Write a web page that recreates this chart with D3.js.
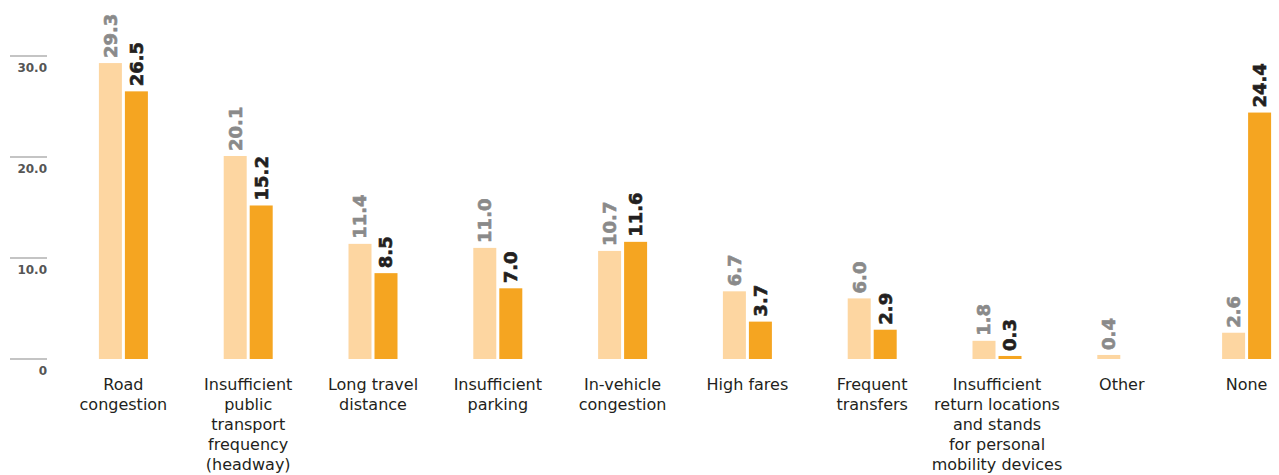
<!DOCTYPE html>
<html>
<head>
<meta charset="utf-8">
<style>
body { margin: 0; background: #fff; font-family: "DejaVu Sans", sans-serif; }
.tick-label { font-size: 12px; font-weight: 700; fill: #555; }
.val { font-size: 18px; font-weight: 700; stroke-width: 0.6px; }
.cat { font-size: 16px; fill: #231f20; }
</style>
</head>
<body>
<div id="vis"></div>
<script src="https://cdnjs.cloudflare.com/ajax/libs/d3/7.8.5/d3.min.js"></script>
<script>
var categories = [
  ["Road", "congestion"],
  ["Insufficient", "public", "transport", "frequency", "(headway)"],
  ["Long travel", "distance"],
  ["Insufficient", "parking"],
  ["In-vehicle", "congestion"],
  ["High fares"],
  ["Frequent", "transfers"],
  ["Insufficient", "return locations", "and stands", "for personal", "mobility devices"],
  ["Other"],
  ["None"]
];
var seriesA = [29.3, 20.1, 11.4, 11.0, 10.7, 6.7, 6.0, 1.8, 0.4, 2.6];
var seriesB = [26.5, 15.2, 8.5, 7.0, 11.6, 3.7, 2.9, 0.3, null, 24.4];
var yTicks = [0, 10, 20, 30];

var width = 1279, height = 475;
var svg = d3.select("#vis").append("svg")
    .attr("width", width)
    .attr("height", height);

// scales
var x = d3.scaleBand()
    .domain(d3.range(categories.length))
    .range([61, 1309]);
var y = d3.scaleLinear()
    .domain([0, 30])
    .range([359, 56]);

var barW = 23, gap = 3;

// y axis: short lines with labels underneath
var ticks = svg.append("g").selectAll("g")
    .data(yTicks)
    .enter().append("g")
    .attr("transform", function(d) { return "translate(0," + y(d) + ")"; });
ticks.append("line")
    .attr("x1", 10).attr("x2", 47)
    .attr("stroke", "#8a8a8a")
    .attr("stroke-width", 1.2);
ticks.append("text")
    .attr("class", "tick-label")
    .attr("x", 47)
    .attr("y", 16)
    .attr("text-anchor", "end")
    .text(function(d) { return d === 0 ? "0" : d.toFixed(1); });

var groups = svg.append("g").selectAll("g")
    .data(categories)
    .enter().append("g")
    .attr("transform", function(d, i) { return "translate(" + (x(i) + x.bandwidth() / 2) + ",0)"; });

// light bars
groups.append("rect")
    .attr("x", -barW - gap / 2)
    .attr("width", barW)
    .attr("y", function(d, i) { return y(seriesA[i]); })
    .attr("height", function(d, i) { return y(0) - y(seriesA[i]); })
    .attr("fill", "#fdd6a1");

// dark bars ("Other" has no value)
groups.filter(function(d, i) { return seriesB[i] != null; })
  .append("rect")
    .attr("x", gap / 2)
    .attr("width", barW)
    .attr("y", function(d) { var i = categories.indexOf(d); return y(seriesB[i]); })
    .attr("height", function(d) { var i = categories.indexOf(d); return y(0) - y(seriesB[i]); })
    .attr("fill", "#f5a521");

// value labels, rotated
groups.append("text")
    .attr("class", "val")
    .attr("fill", "#8a8a8a")
    .attr("stroke", "#8a8a8a")
    .attr("transform", function(d, i) {
      return "translate(" + (-barW / 2 - gap / 2) + "," + (y(seriesA[i]) - 5) + ") rotate(-90)";
    })
    .attr("dy", "0.36em")
    .text(function(d, i) { return seriesA[i].toFixed(1); });

groups.filter(function(d, i) { return seriesB[i] != null; })
  .append("text")
    .attr("class", "val")
    .attr("fill", "#231f20")
    .attr("stroke", "#231f20")
    .attr("transform", function(d) {
      var i = categories.indexOf(d);
      return "translate(" + (barW / 2 + gap / 2) + "," + (y(seriesB[i]) - 5) + ") rotate(-90)";
    })
    .attr("dy", "0.36em")
    .text(function(d) { return seriesB[categories.indexOf(d)].toFixed(1); });

// category labels
var cat = groups.append("text")
    .attr("class", "cat")
    .attr("text-anchor", "middle")
    .attr("y", 390);
cat.selectAll("tspan")
    .data(function(d) { return d; })
    .enter().append("tspan")
    .attr("x", 0)
    .attr("dy", function(d, j) { return j === 0 ? 0 : 20; })
    .text(function(d) { return d; });
</script>
</body>
</html>
